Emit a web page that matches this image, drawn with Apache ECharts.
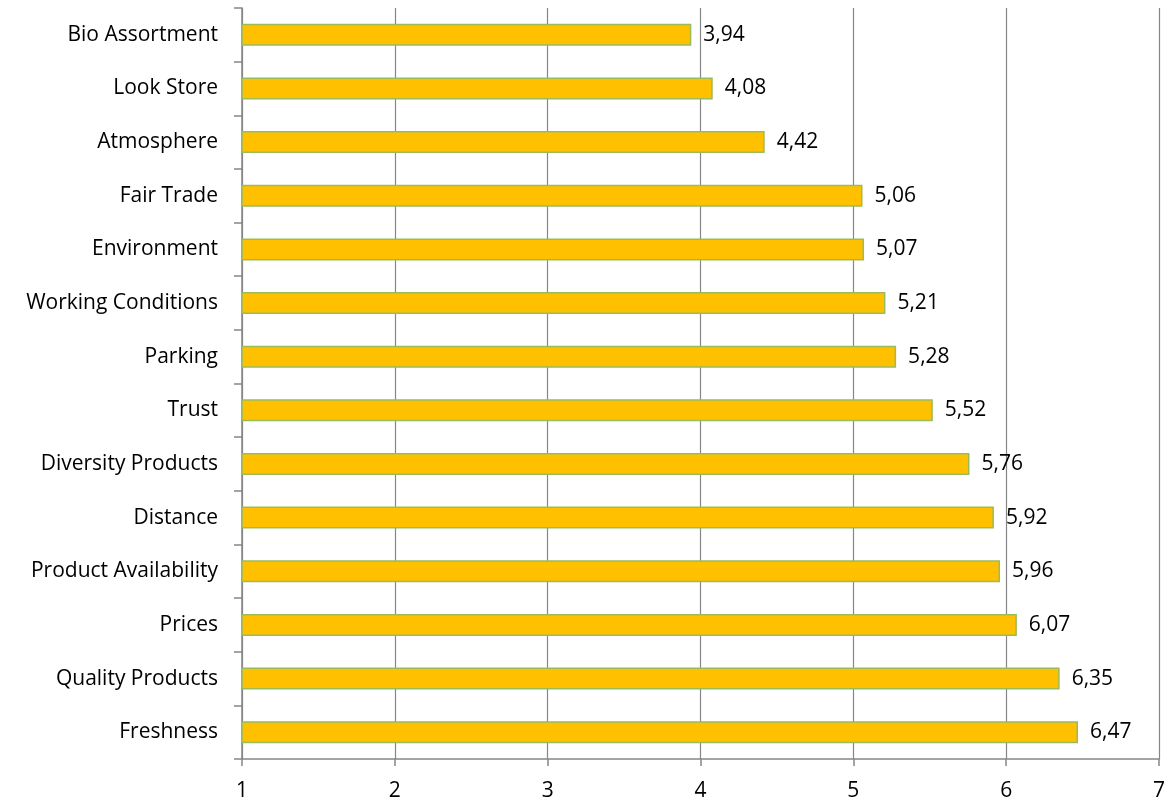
<!DOCTYPE html>
<html><head><meta charset="utf-8">
<script src="https://cdn.jsdelivr.net/npm/echarts@6/dist/echarts.min.js"></script>
<style>html,body{margin:0;padding:0;background:#fff}#c{width:1168px;height:806px}</style>
</head><body><div id="c"></div>
<script>
const categories = ["Bio Assortment","Look Store","Atmosphere","Fair Trade","Environment","Working Conditions","Parking","Trust","Diversity Products","Distance","Product Availability","Prices","Quality Products","Freshness"];
const values = [3.94,4.08,4.42,5.06,5.07,5.21,5.28,5.52,5.76,5.92,5.96,6.07,6.35,6.47];
const xTicks = [1,2,3,4,5,6,7];

const chart = echarts.init(document.getElementById('c'));
const font = '"Open Sans", sans-serif';
chart.setOption({
  animation:false,
  grid:{left:242,right:9,top:8,bottom:47,containLabel:false},
  xAxis:{type:'value',min:xTicks[0],max:xTicks[xTicks.length-1],interval:1,
    axisLine:{show:true,lineStyle:{color:'#868686',width:1.5}},
    axisTick:{show:true,length:7,lineStyle:{color:'#868686',width:1.5}},
    splitLine:{show:true,lineStyle:{color:'#868686',width:1.2}},
    axisLabel:{color:'#000',fontFamily:font,fontSize:21,margin:22}},
  yAxis:{type:'category',data:categories,inverse:true,
    axisLine:{show:true,lineStyle:{color:'#868686',width:1.5}},
    axisTick:{show:true,length:8,alignWithLabel:false,lineStyle:{color:'#868686',width:1.5}},
    axisLabel:{color:'#000',fontFamily:font,fontSize:21,margin:24}},
  series:[{type:'bar',data:values,barWidth:22,
    itemStyle:{color:'#FFC000',borderColor:'#9BBB59',borderWidth:1.5},
    label:{show:true,position:'right',distance:12,color:'#000',fontFamily:font,fontSize:21,
      formatter:p=>p.value.toFixed(2).replace('.',',')}}]
});
</script></body></html>
